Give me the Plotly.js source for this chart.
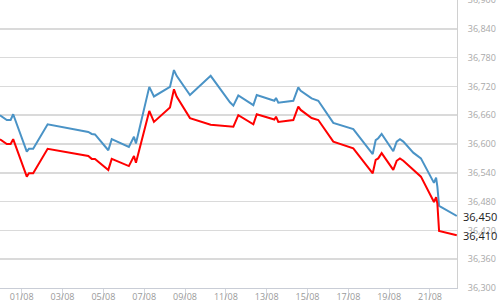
<!DOCTYPE html>
<html>
<head>
<meta charset="utf-8">
<script src="https://cdn.plot.ly/plotly-3.0.1.min.js"></script>
<style>html,body{margin:0;padding:0;background:#fff;}#chart{width:500px;height:300px;}</style>
</head>
<body>
<div id="chart"></div>
<script>
const times = [
  '2023-07-30 22:30','2023-07-31 06:30','2023-07-31 11:00','2023-07-31 14:00',
  '2023-08-01 06:00','2023-08-01 08:30','2023-08-01 13:30','2023-08-02 06:30',
  '2023-08-04 06:20','2023-08-04 10:20','2023-08-04 14:10','2023-08-05 05:50',
  '2023-08-05 09:50','2023-08-06 06:00','2023-08-06 12:00','2023-08-06 14:20',
  '2023-08-07 06:00','2023-08-07 11:30','2023-08-08 06:20','2023-08-08 11:00',
  '2023-08-08 14:10','2023-08-09 05:50','2023-08-10 06:10','2023-08-11 04:50',
  '2023-08-11 08:50','2023-08-11 14:40','2023-08-12 08:20','2023-08-12 12:20',
  '2023-08-13 09:00','2023-08-13 11:00','2023-08-13 13:40','2023-08-14 07:20',
  '2023-08-14 13:10','2023-08-14 16:00','2023-08-15 04:50','2023-08-15 12:40',
  '2023-08-16 06:20','2023-08-17 05:50','2023-08-18 04:40','2023-08-18 08:10',
  '2023-08-18 11:10','2023-08-18 15:10','2023-08-19 04:50','2023-08-19 08:50',
  '2023-08-19 12:40','2023-08-19 16:40','2023-08-20 04:20','2023-08-20 13:20',
  '2023-08-21 04:40','2023-08-21 07:10','2023-08-21 08:40','2023-08-21 10:40',
  '2023-08-22 07:30'
];
const sellValues = [
  36660,36650,36650,36662,36584,36590,36590,36641,
  36625,36621,36620,36587,36610,36594,36615,36601,
  36719,36699,36719,36754,36742,36702,36742,36687,
  36680,36701,36681,36702,36690,36696,36686,36690,
  36718,36711,36695,36690,36644,36631,36579,36608,
  36612,36621,36585,36605,36610,36605,36582,36570,
  36519,36530,36511,36471,36450
];
const buyValues = [
  36610,36600,36600,36610,36532,36539,36539,36590,
  36575,36569,36569,36546,36569,36554,36575,36561,
  36669,36646,36676,36714,36699,36654,36640,36637,
  36636,36660,36641,36662,36651,36657,36646,36650,
  36678,36671,36654,36650,36605,36591,36539,36567,
  36570,36581,36546,36565,36570,36565,36546,36532,
  36479,36489,36476,36419,36410
];
const lastLabels = ['36,450','36,410'];
const xRange = ['2023-07-30 22:30','2023-08-22 07:45'];
const yRange = [36300, 36900];

const traces = [
  {x: times, y: sellValues, type: 'scatter', mode: 'lines',
   line: {color: '#4a93c6', width: 2}, hoverinfo: 'skip'},
  {x: times, y: buyValues, type: 'scatter', mode: 'lines',
   line: {color: '#ff0000', width: 2}, hoverinfo: 'skip'}
];

const layout = {
  width: 500, height: 300,
  margin: {l: 0, r: 43, t: 0, b: 12},
  paper_bgcolor: '#ffffff', plot_bgcolor: '#ffffff',
  showlegend: false,
  xaxis: {
    type: 'date', range: xRange,
    tick0: '2023-08-01', dtick: 2*86400000, tickformat: '%d/%m',
    showgrid: false, zeroline: false,
    showline: true, linecolor: '#c9cdd6', linewidth: 1,
    ticks: 'outside', ticklen: 12, tickcolor: '#d4d7de', tickwidth: 1,
    ticklabelstandoff: -12,
    tickfont: {family: 'Open Sans, sans-serif', size: 9, color: '#9a9a9a'}
  },
  yaxis: {
    side: 'right', range: yRange, dtick: 60, tick0: 36300,
    tickformat: ',d',
    showgrid: true, gridcolor: '#dadada', gridwidth: 1.5,
    zeroline: false,
    showline: true, linecolor: '#d0d0d0', linewidth: 1,
    ticks: '', ticklabelstandoff: 8, ticklabeloverflow: 'allow',
    tickfont: {family: 'Open Sans, sans-serif', size: 9, color: '#a8a8a8'}
  },
  annotations: [
    {xref: 'paper', x: 1, xanchor: 'left', xshift: 4, yref: 'y', y: sellValues[sellValues.length-1],
     text: lastLabels[0], showarrow: false, font: {family: 'Open Sans, sans-serif', size: 11, color: '#222'}},
    {xref: 'paper', x: 1, xanchor: 'left', xshift: 4, yref: 'y', y: buyValues[buyValues.length-1],
     text: lastLabels[1], showarrow: false, font: {family: 'Open Sans, sans-serif', size: 11, color: '#222'}}
  ]
};

Plotly.newPlot('chart', traces, layout, {staticPlot: true, displayModeBar: false});
</script>
</body>
</html>
